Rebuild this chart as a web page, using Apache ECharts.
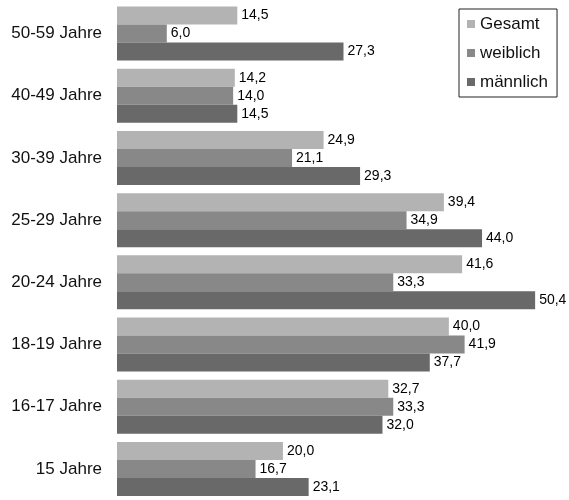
<!DOCTYPE html>
<html>
<head>
<meta charset="utf-8">
<script src="https://cdn.jsdelivr.net/npm/echarts@6/dist/echarts.min.js"></script>
<style>
  html, body { margin: 0; padding: 0; background: #fff; }
  #chart { width: 569px; height: 500px; }
</style>
</head>
<body>
<div id="chart"></div>
<script>
// Age groups, listed from top to bottom
const ageGroups = ['50-59 Jahre', '40-49 Jahre', '30-39 Jahre', '25-29 Jahre',
                   '20-24 Jahre', '18-19 Jahre', '16-17 Jahre', '15 Jahre'];

// Shares per age group
const gesamt    = [14.5, 14.2, 24.9, 39.4, 41.6, 40.0, 32.7, 20.0];
const weiblich  = [6.0, 14.0, 21.1, 34.9, 33.3, 41.9, 33.3, 16.7];
const maennlich = [27.3, 14.5, 29.3, 44.0, 50.4, 37.7, 32.0, 23.1];

const seriesNames = ['Gesamt', 'weiblich', 'männlich'];
const seriesColors = ['#b3b3b3', '#888888', '#696969'];

const FONT = '"Liberation Sans", Arial, sans-serif';

const fmt = p => p.value.toFixed(1).replace('.', ',');

function makeSeries(name, data, color) {
  return {
    name: name,
    type: 'bar',
    data: data,
    barWidth: 18,
    barGap: '0%',
    itemStyle: { color: color },
    label: {
      show: true,
      position: 'right',
      distance: 4,
      color: '#000',
      fontFamily: FONT,
      fontSize: 14,
      formatter: fmt
    },
    emphasis: { disabled: true }
  };
}

const chart = echarts.init(document.getElementById('chart'), null, { renderer: 'canvas' });

chart.setOption({
  animation: false,
  backgroundColor: '#fff',
  grid: { left: 117, right: 4, top: 2.5, height: 503, containLabel: false },
  xAxis: {
    type: 'value',
    min: 0,
    max: 54,
    show: false
  },
  yAxis: {
    type: 'category',
    data: ageGroups,
    inverse: true,
    axisLine: { show: false },
    axisTick: { show: false },
    splitLine: { show: false },
    axisLabel: {
      margin: 15,
      color: '#111',
      fontFamily: FONT,
      fontSize: 17
    }
  },
  legend: {
    orient: 'vertical',
    left: 459,
    top: 9,
    data: seriesNames,
    icon: 'rect',
    itemWidth: 8,
    itemHeight: 8,
    itemGap: 11,
    padding: [6, 9, 6, 8],
    borderColor: '#222',
    borderWidth: 1,
    selectedMode: false,
    textStyle: {
      color: '#111',
      fontFamily: FONT,
      fontSize: 17,
      lineHeight: 18
    }
  },
  series: [
    makeSeries(seriesNames[0], gesamt, seriesColors[0]),
    makeSeries(seriesNames[1], weiblich, seriesColors[1]),
    makeSeries(seriesNames[2], maennlich, seriesColors[2])
  ]
});
</script>
</body>
</html>
